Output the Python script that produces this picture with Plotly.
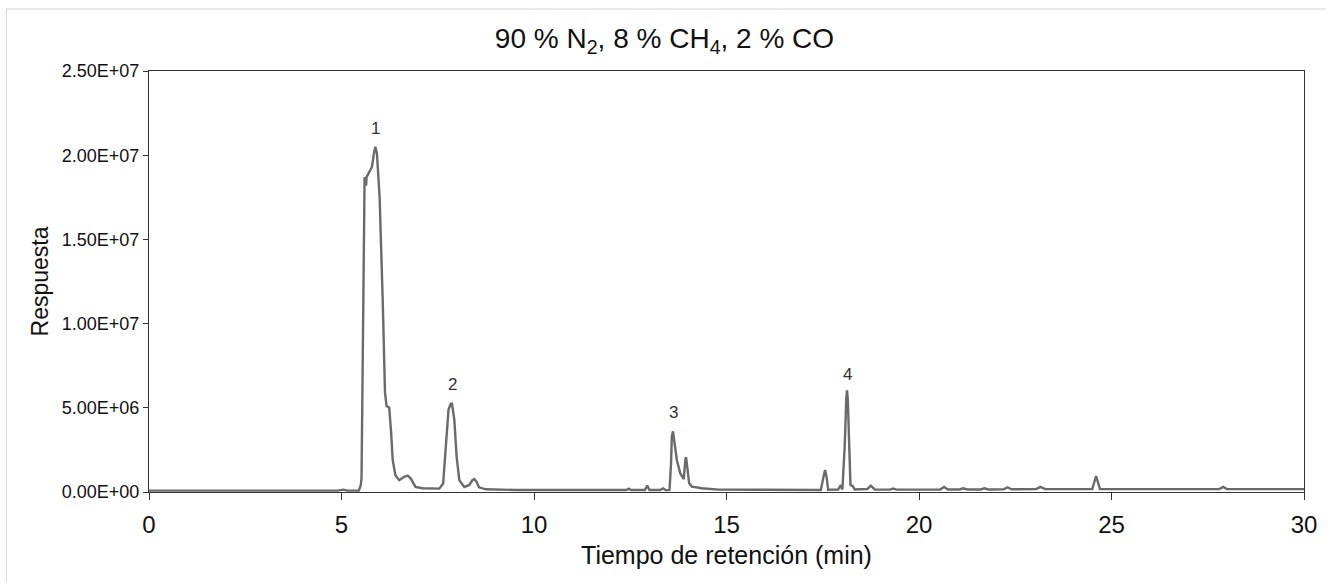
import plotly.graph_objects as go

# Retention time (min) and detector response (x 1e6)
time_min = [
    0.0, 1.0, 2.0, 3.0, 4.0, 4.9, 5.05, 5.15, 5.45, 5.50, 5.52, 5.55, 5.58, 5.60, 5.62,
    5.64, 5.65, 5.73, 5.79, 5.85, 5.88, 5.92, 5.97, 5.99, 6.07, 6.13, 6.17, 6.24, 6.29,
    6.33, 6.40, 6.50, 6.63, 6.72, 6.80, 6.92, 7.10, 7.54, 7.64, 7.71, 7.78, 7.84, 7.87,
    7.93, 7.99, 8.06, 8.19, 8.32, 8.40, 8.45, 8.51, 8.57, 8.75, 9.5, 11.0, 12.4, 12.46,
    12.52, 12.88, 12.94, 13.0, 13.28, 13.35, 13.43, 13.52, 13.56, 13.58, 13.61, 13.64,
    13.71, 13.80, 13.89, 13.93, 13.95, 13.99, 14.03, 14.10, 14.36, 14.79, 16.0, 17.45,
    17.52, 17.56, 17.60, 17.64, 17.90, 17.97, 18.01, 18.07, 18.11, 18.13, 18.15, 18.18,
    18.22, 18.28, 18.33, 18.66, 18.75, 18.85, 19.25, 19.33, 19.41, 20.55, 20.65, 20.75,
    21.05, 21.15, 21.25, 21.6, 21.7, 21.8, 22.2, 22.3, 22.4, 23.05, 23.15, 23.28, 24.5,
    24.6, 24.7, 27.8, 27.9, 28.0, 30.0,
]
response_millions = [
    0.08, 0.08, 0.08, 0.08, 0.08, 0.08, 0.14, 0.08, 0.09, 0.4, 0.8, 9.5, 17.5, 18.7, 18.5,
    18.2, 18.7, 19.0, 19.3, 20.2, 20.5, 20.1, 18.0, 17.5, 11.4, 5.9, 5.1, 5.0, 3.5,
    1.9, 1.0, 0.7, 0.9, 0.97, 0.8, 0.3, 0.22, 0.2, 0.5, 2.5, 4.9, 5.24, 5.24,
    4.3, 2.1, 0.7, 0.3, 0.42, 0.7, 0.77, 0.6, 0.28, 0.16, 0.12, 0.12, 0.12, 0.2,
    0.12, 0.12, 0.38, 0.12, 0.12, 0.22, 0.1, 0.12, 1.7, 3.3, 3.6, 3.1,
    1.9, 1.1, 0.77, 1.9, 2.07, 1.3, 0.52, 0.32, 0.22, 0.14, 0.12, 0.12,
    0.9, 1.3, 0.9, 0.13, 0.15, 0.4, 0.15, 2.7, 5.5, 6.03, 5.5, 2.7,
    0.42, 0.35, 0.15, 0.18, 0.38, 0.15, 0.14, 0.2, 0.14, 0.15, 0.3, 0.15,
    0.15, 0.22, 0.15, 0.15, 0.22, 0.15, 0.16, 0.28, 0.16, 0.17, 0.3, 0.17, 0.17,
    0.95, 0.17, 0.17, 0.3, 0.17, 0.17,
]
response = [v * 1e6 for v in response_millions]

# Peak labels
peak_labels = ["1", "2", "3", "4"]
peak_label_time = [5.88, 7.87, 13.63, 18.13]
peak_label_resp = [21.6e6, 6.37e6, 4.7e6, 6.96e6]

# Axis ticks
x_ticks = [0, 5, 10, 15, 20, 25, 30]
y_tick_vals = [0, 5e6, 1e7, 1.5e7, 2e7, 2.5e7]
y_tick_text = ["0.00E+00", "5.00E+06", "1.00E+07", "1.50E+07", "2.00E+07", "2.50E+07"]

FONT = "Liberation Sans, Arial, sans-serif"

fig = go.Figure()
fig.add_trace(go.Scatter(
    x=time_min, y=response, mode="lines",
    line=dict(color="#6a6a6a", width=2.4),
    showlegend=False, hoverinfo="skip",
))

for lbl, tx, ty in zip(peak_labels, peak_label_time, peak_label_resp):
    fig.add_annotation(x=tx, y=ty, text=lbl, showarrow=False,
                       font=dict(family=FONT, size=17, color="#333333"),
                       xanchor="center", yanchor="middle")

# faint sheet frame around the chart
fig.add_shape(type="line", xref="paper", yref="paper",
              x0=(6 - 149) / 1158, x1=(6 - 149) / 1158, y0=(492 - 9) / 421, y1=(492 - 582) / 421,
              line=dict(color="#d6d6d6", width=1))
fig.add_shape(type="line", xref="paper", yref="paper",
              x0=(6 - 149) / 1158, x1=(1329 - 149) / 1158, y0=(492 - 9) / 421, y1=(492 - 9) / 421,
              line=dict(color="#d6d6d6", width=1))

fig.update_layout(
    width=1329, height=582,
    margin=dict(l=149, r=22, t=71, b=90),
    paper_bgcolor="white", plot_bgcolor="white",
    font=dict(family=FONT, color="#111111"),
    title=dict(text="90 % N<sub>2</sub>, 8 % CH<sub>4</sub>, 2 % CO",
               x=0.5, xanchor="center", y=0.935, yanchor="middle",
               font=dict(family=FONT, size=28, color="#111111")),
    xaxis=dict(
        range=[0, 30], tickvals=x_ticks, ticks="outside", ticklen=7, tickwidth=1,
        tickcolor="#333333", showline=True, linecolor="#333333", linewidth=1.2,
        mirror=True, showgrid=False, zeroline=False, ticklabelstandoff=4,
        tickfont=dict(family=FONT, size=24, color="#111111"),
        title=dict(text="Tiempo de retención (min)", standoff=9,
                   font=dict(family=FONT, size=25, color="#111111")),
    ),
    yaxis=dict(
        range=[0, 2.5e7], tickvals=y_tick_vals, ticktext=y_tick_text,
        ticks="outside", ticklen=5, tickwidth=1, tickcolor="#333333",
        showline=True, linecolor="#333333", linewidth=1.2, mirror=True,
        showgrid=False, zeroline=False,
        tickfont=dict(family=FONT, size=18, color="#111111"),
        title=dict(text="Respuesta", standoff=6,
                   font=dict(family=FONT, size=23, color="#111111")),
    ),
)

fig.write_html("out.html")
